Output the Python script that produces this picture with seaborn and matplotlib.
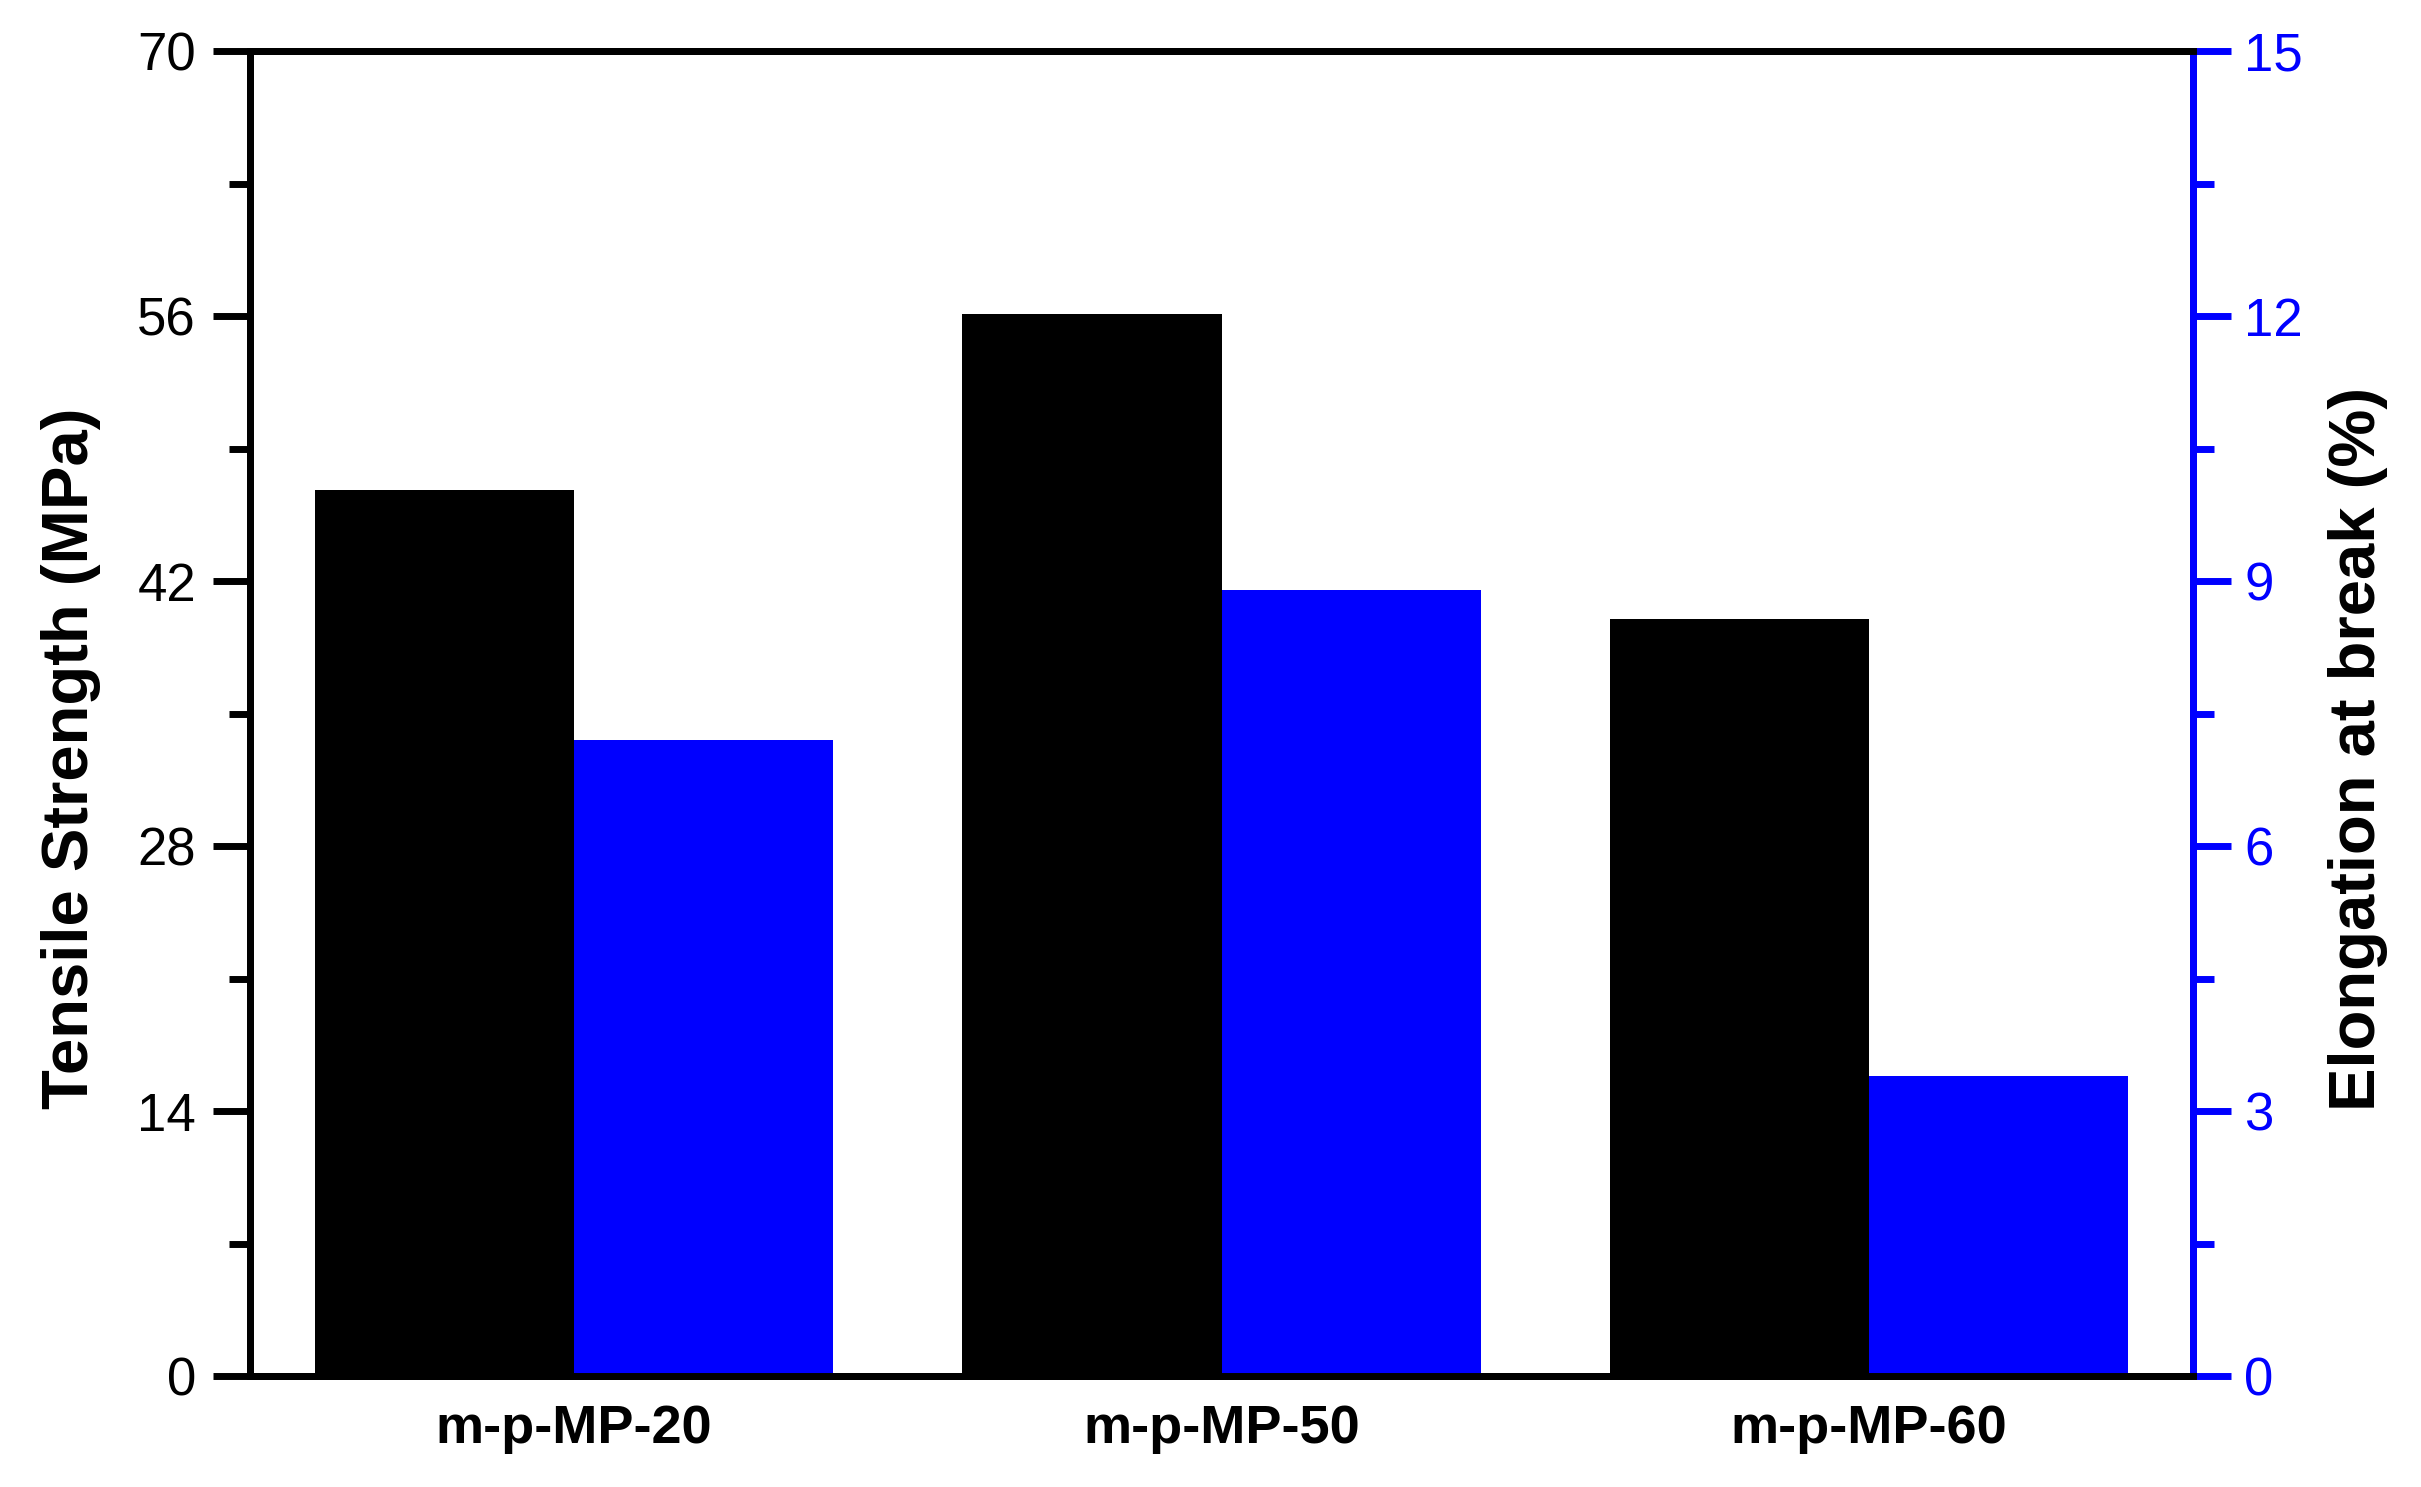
import matplotlib
matplotlib.use("Agg")
import matplotlib.pyplot as plt
import seaborn as sns
import pandas as pd
from matplotlib.ticker import MultipleLocator

samples = ["m-p-MP-20", "m-p-MP-50", "m-p-MP-60"]
tensile_strength = [46.8, 56.1, 40.0]   # MPa
elongation = [7.2, 8.9, 3.4]            # %

props = ["Tensile", "Elongation"]
colors = {"Tensile": "#000000", "Elongation": "#0000FF"}

df_ts = pd.DataFrame({"Sample": samples, "Value": tensile_strength, "Property": "Tensile"})
df_el = pd.DataFrame({"Sample": samples, "Value": elongation, "Property": "Elongation"})

sns.set_style("white")
plt.rcParams["font.family"] = ["Liberation Sans", "DejaVu Sans"]
plt.rcParams.update({"text.color": "black", "axes.labelcolor": "black",
                     "xtick.color": "black", "ytick.color": "black"})

fig, ax = plt.subplots(figsize=(24.21, 14.87), dpi=100)
fig.subplots_adjust(left=0.1033, right=0.9058, bottom=0.0746, top=0.9657)
ax2 = ax.twinx()

sns.barplot(data=df_ts, x="Sample", y="Value", hue="Property", hue_order=props,
            order=samples, palette=colors, width=0.8, dodge=True, ax=ax,
            legend=False, errorbar=None, saturation=1, linewidth=0)
sns.barplot(data=df_el, x="Sample", y="Value", hue="Property", hue_order=props,
            order=samples, palette=colors, width=0.8, dodge=True, ax=ax2,
            legend=False, errorbar=None, saturation=1, linewidth=0)

ax.set_xlim(-0.5, 2.5)
ax.set_ylim(0, 70)
ax2.set_ylim(0, 15)
ax.yaxis.set_major_locator(MultipleLocator(14))
ax.yaxis.set_minor_locator(MultipleLocator(7))
ax2.yaxis.set_major_locator(MultipleLocator(3))
ax2.yaxis.set_minor_locator(MultipleLocator(1.5))

lw = 5
for a in (ax, ax2):
    for s in a.spines.values():
        s.set_linewidth(lw)
        s.set_color("black")
ax2.spines["right"].set_color("#0000FF")

ax.tick_params(axis="y", which="major", direction="out", length=27, width=lw,
               labelsize=38, pad=12, colors="black")
ax.tick_params(axis="y", which="minor", direction="out", length=15, width=lw)
ax.tick_params(axis="x", length=0, labelsize=39, pad=20, colors="black")
ax2.tick_params(axis="y", which="major", direction="out", length=27, width=lw,
                labelsize=38, pad=10, colors="#0000FF")
ax2.tick_params(axis="y", which="minor", direction="out", length=15, width=lw,
                colors="#0000FF")
for lab in ax.get_xticklabels():
    lab.set_fontweight("bold")

ax.set_xlabel("")
ax.set_ylabel("Tensile Strength (MPa)", fontsize=47, fontweight="bold", labelpad=26)
ax2.set_ylabel("Elongation at break (%)", fontsize=47, fontweight="bold",
               labelpad=18, color="black")
# labels sit a bit below the middle in the original
ax.yaxis.label.set_y(0.466)
ax2.yaxis.label.set_y(0.473)

fig.savefig("out.png", dpi=100)
